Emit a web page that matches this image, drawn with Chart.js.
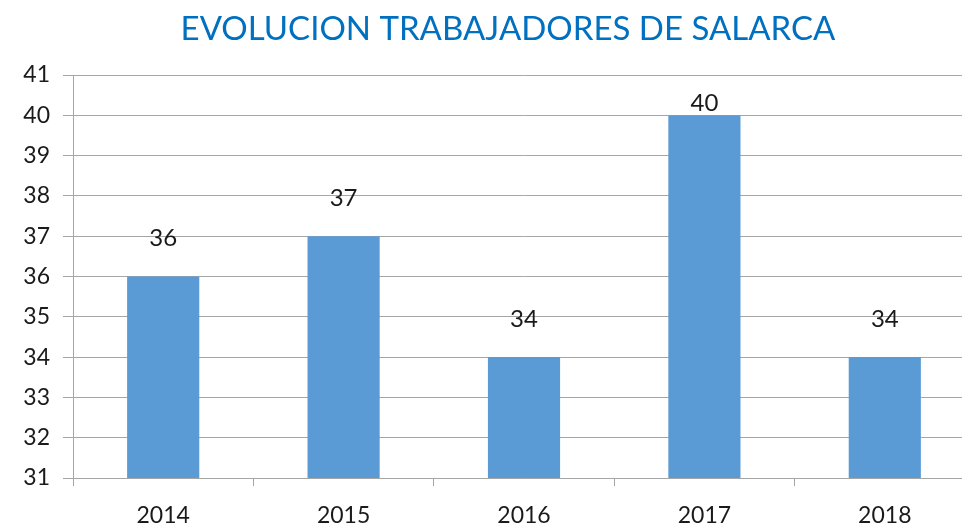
<!DOCTYPE html>
<html>
<head>
<meta charset="utf-8">
<script src="https://cdn.jsdelivr.net/npm/chart.js@4"></script>
<style>
html,body{margin:0;padding:0;background:#fff;overflow:hidden;}
#wrap{width:975px;height:527px;}
</style>
</head>
<body>
<div id="wrap"><canvas id="c" width="975" height="527"></canvas></div>
<script>
const titleText = 'EVOLUCION TRABAJADORES DE SALARCA';
const years = ['2014', '2015', '2016', '2017', '2018'];
const workers = [36, 37, 34, 40, 34];
const yMin = 31;
const yMax = 41;

const valueLabels = {
  id: 'valueLabels',
  afterDatasetsDraw(chart) {
    const ctx = chart.ctx;
    const meta = chart.getDatasetMeta(0);
    ctx.save();
    ctx.font = '24px Lato, "Open Sans", sans-serif';
    ctx.fillStyle = '#1a1a1a';
    ctx.textAlign = 'center';
    ctx.textBaseline = 'middle';
    meta.data.forEach((bar, i) => {
      let y = bar.y - 38;
      if (y < chart.chartArea.top + 28) y = bar.y - 12;
      ctx.fillText(String(workers[i]), bar.x, y);
    });
    ctx.restore();
  }
};

const shiftedTitle = {
  id: 'shiftedTitle',
  afterDraw(chart) {
    const ctx = chart.ctx;
    ctx.save();
    ctx.font = '33px Lato, "Open Sans", sans-serif';
    ctx.fillStyle = '#0070c0';
    ctx.textAlign = 'center';
    ctx.textBaseline = 'middle';
    ctx.fillText(titleText, chart.chartArea.left + 435, 29);
    ctx.restore();
  }
};

new Chart(document.getElementById('c'), {
  type: 'bar',
  data: {
    labels: years,
    datasets: [{
      data: workers,
      backgroundColor: '#5b9bd5',
      borderWidth: 0,
      categoryPercentage: 1,
      barPercentage: 0.4
    }]
  },
  options: {
    responsive: false,
    animation: false,
    layout: { padding: { left: 0, right: 0, top: 75, bottom: 0 } },
    plugins: {
      legend: { display: false },
      tooltip: { enabled: false },
      title: { display: false }
    },
    scales: {
      x: {
        grid: { display: true, drawOnChartArea: false, drawTicks: true, tickLength: 8, color: '#a6a6a6', offset: true },
        border: { display: true, color: '#a6a6a6' },
        ticks: { color: '#1a1a1a', font: { size: 23, family: 'Lato, "Open Sans", sans-serif' }, padding: 16 },
        afterFit(s) { s.height = 49; }
      },
      y: {
        min: yMin,
        max: yMax,
        grid: { color: '#a6a6a6', tickLength: 10, drawTicks: true },
        border: { display: true, color: '#a6a6a6' },
        ticks: { stepSize: 1, color: '#1a1a1a', font: { size: 23, family: 'Lato, "Open Sans", sans-serif' }, padding: 13 },
        afterFit(s) { s.width = 73; }
      }
    }
  },
  plugins: [valueLabels, shiftedTitle]
});
</script>
</body>
</html>
